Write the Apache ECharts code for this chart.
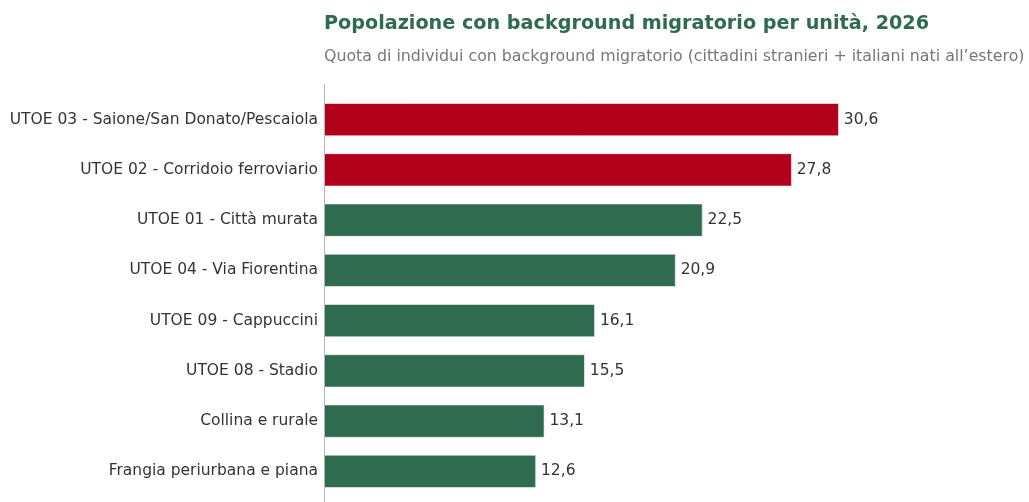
<!DOCTYPE html>
<html>
<head>
<meta charset="utf-8">
<script src="https://cdn.jsdelivr.net/npm/echarts@6/dist/echarts.min.js"></script>
<style>
html,body{margin:0;padding:0;background:#fff;}
#c{width:1029px;height:502px;}
</style>
</head>
<body>
<div id="c"></div>
<script>
const categories = [
  "UTOE 03 - Saione/San Donato/Pescaiola",
  "UTOE 02 - Corridoio ferroviario",
  "UTOE 01 - Città murata",
  "UTOE 04 - Via Fiorentina",
  "UTOE 09 - Cappuccini",
  "UTOE 08 - Stadio",
  "Collina e rurale",
  "Frangia periurbana e piana"
];
const values = [30.6, 27.8, 22.5, 20.9, 16.1, 15.5, 13.1, 12.6];
const highlighted = [true, true, false, false, false, false, false, false];
const titleText = "Popolazione con background migratorio per unità, 2026";
const subtitleText = "Quota di individui con background migratorio (cittadini stranieri + italiani nati all\u2019estero)";

const GREEN = "#2e6b4f";
const RED = "#b0001a";
const FONT = "DejaVu Sans";

const chart = echarts.init(document.getElementById('c'), null, {renderer: 'canvas'});
chart.setOption({
  animation: false,
  backgroundColor: '#fff',
  textStyle: {fontFamily: FONT},
  title: {
    text: titleText,
    subtext: subtitleText,
    left: 319,
    top: 10,
    itemGap: 15,
    textStyle: {fontFamily: FONT, fontSize: 19.2, fontWeight: 'bold', color: GREEN},
    subtextStyle: {fontFamily: FONT, fontSize: 15.8, color: '#777'}
  },
  grid: {left: 324, top: 94.5, width: 673, height: 402, containLabel: false},
  xAxis: {
    type: 'value', min: 0, max: 40, show: false
  },
  yAxis: {
    type: 'category',
    inverse: true,
    data: categories,
    axisLine: {show: false},
    axisTick: {show: false},
    axisLabel: {fontFamily: FONT, fontSize: 15.5, color: '#333', margin: 6}
  },
  graphic: [{
    type: 'line',
    shape: {x1: 324.5, y1: 84, x2: 324.5, y2: 502},
    style: {stroke: '#b5b5b5', lineWidth: 1},
    z: 10
  }],
  series: [{
    type: 'bar',
    data: values.map((v, i) => ({value: v, itemStyle: {color: highlighted[i] ? RED : GREEN}})),
    barWidth: 33,
    itemStyle: {borderColor: '#fff', borderWidth: 0.6},
    label: {
      show: true, position: 'right', distance: 5,
      fontFamily: FONT, fontSize: 15.5, color: '#333',
      formatter: p => p.value.toFixed(1).replace('.', ',')
    }
  }]
});
</script>
</body>
</html>
